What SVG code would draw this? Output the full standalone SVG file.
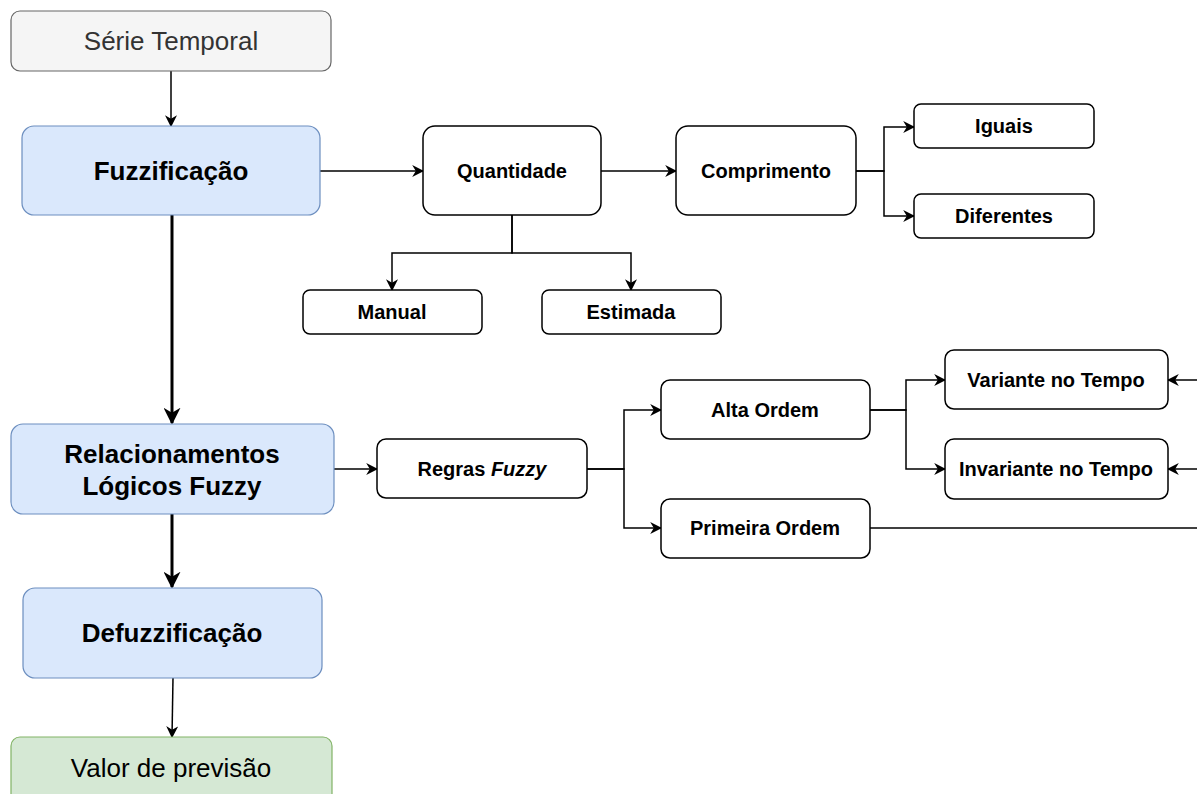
<svg xmlns="http://www.w3.org/2000/svg" width="1197" height="794" viewBox="0 0 1197 794">
<defs>
<marker id="a" viewBox="0 0 10 10" refX="9" refY="5" markerWidth="12" markerHeight="12" markerUnits="userSpaceOnUse" orient="auto"><path d="M0,0 L10,5 L0,10 L3,5 Z" fill="#000"/></marker>
<marker id="b" viewBox="0 0 10 10" refX="9" refY="5" markerWidth="17" markerHeight="17" markerUnits="userSpaceOnUse" orient="auto"><path d="M0,0 L10,5 L0,10 L3,5 Z" fill="#000"/></marker>
<style>
.main{fill:#dae8fc;stroke:#6c8ebf;stroke-width:1.2}
.sub{fill:#fff;stroke:#000;stroke-width:1.5}
.t{font-family:"Liberation Sans",Arial,sans-serif;text-anchor:middle}
.big{font-size:26px;font-weight:bold;fill:#000}
.sm{font-size:20px;font-weight:bold;fill:#000}
.e{fill:none;stroke:#000;stroke-width:1.5;marker-end:url(#a)}
.ek{fill:none;stroke:#000;stroke-width:3;marker-end:url(#b)}
</style>
</defs>
<rect width="1197" height="794" fill="#fff"/>
<g id="connectors">
<path class="e" d="M171,71 V126"/>
<path class="ek" d="M172,215 V423"/>
<path class="ek" d="M172,514 V587"/>
<path class="e" d="M173,678 L172,737"/>
<path class="e" d="M320,171 H423"/>
<path class="e" d="M601,171 H676"/>
<path class="e" d="M856,171 H884 V127 H914"/>
<path class="e" d="M856,171 H884 V216 H914"/>
<path class="e" d="M512,215 V253 H392 V290"/>
<path class="e" d="M512,215 V253 H631 V290"/>
<path class="e" d="M334,469 H377"/>
<path class="e" d="M587,469 H624 V410 H661"/>
<path class="e" d="M587,469 H624 V528 H661"/>
<path class="e" d="M870,410 H906 V380 H945"/>
<path class="e" d="M870,410 H906 V469 H945"/>
<path d="M870,528 H1197" stroke="#000" stroke-width="1.5" fill="none"/>
<path class="e" d="M1197,380 H1168"/>
<path class="e" d="M1197,469 H1168"/>
</g>
<g id="serie"><rect x="11" y="11" width="320" height="60" rx="9" fill="#f5f5f5" stroke="#666" stroke-width="1.2"/><text class="t" x="171" y="50" font-size="26" fill="#333">Série Temporal</text></g>
<g id="fuzz"><rect class="main" x="22" y="126" width="298" height="89" rx="12"/><text class="t big" x="171" y="180">Fuzzificação</text></g>
<g id="rel"><rect class="main" x="11" y="424" width="323" height="90" rx="12"/><text class="t big" x="172" y="463">Relacionamentos</text><text class="t big" x="172" y="495">Lógicos Fuzzy</text></g>
<g id="defuzz"><rect class="main" x="23" y="588" width="299" height="90" rx="12"/><text class="t big" x="172" y="642">Defuzzificação</text></g>
<g id="valor"><rect x="11" y="737" width="321" height="70" rx="9" fill="#d5e8d4" stroke="#82b366" stroke-width="1.2"/><text class="t" x="171" y="777" font-size="26" fill="#000">Valor de previsão</text></g>
<g id="quant"><rect class="sub" x="423" y="126" width="178" height="89" rx="12"/><text class="t sm" x="512" y="178">Quantidade</text></g>
<g id="compr"><rect class="sub" x="676" y="126" width="180" height="89" rx="12"/><text class="t sm" x="766" y="178">Comprimento</text></g>
<g id="iguais"><rect class="sub" x="914" y="104" width="180" height="44" rx="7"/><text class="t sm" x="1004" y="133">Iguais</text></g>
<g id="dif"><rect class="sub" x="914" y="194" width="180" height="44" rx="7"/><text class="t sm" x="1004" y="223">Diferentes</text></g>
<g id="manual"><rect class="sub" x="303" y="290" width="179" height="44" rx="7"/><text class="t sm" x="392" y="319">Manual</text></g>
<g id="estimada"><rect class="sub" x="542" y="290" width="179" height="44" rx="7"/><text class="t sm" x="631" y="319">Estimada</text></g>
<g id="regras"><rect class="sub" x="377" y="439" width="210" height="59" rx="9"/><text class="t sm" x="482" y="476">Regras <tspan font-style="italic">Fuzzy</tspan></text></g>
<g id="alta"><rect class="sub" x="661" y="380" width="209" height="59" rx="9"/><text class="t sm" x="765" y="417">Alta Ordem</text></g>
<g id="primeira"><rect class="sub" x="661" y="499" width="209" height="59" rx="9"/><text class="t sm" x="765" y="535">Primeira Ordem</text></g>
<g id="variante"><rect class="sub" x="945" y="350" width="223" height="59" rx="9"/><text class="t sm" x="1056" y="387">Variante no Tempo</text></g>
<g id="invariante"><rect class="sub" x="945" y="439" width="223" height="60" rx="9"/><text class="t sm" x="1056" y="476">Invariante no Tempo</text></g>
</svg>
